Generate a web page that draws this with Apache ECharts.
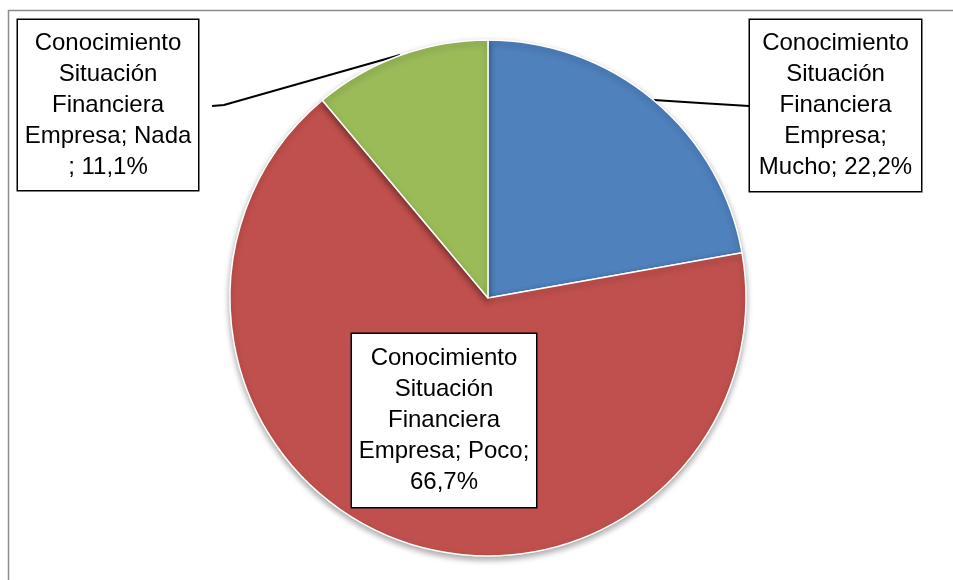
<!DOCTYPE html>
<html>
<head>
<meta charset="utf-8">
<script src="https://cdn.jsdelivr.net/npm/echarts@6/dist/echarts.min.js"></script>
<style>
  html, body { margin: 0; padding: 0; background: #fff; }
  #chart { width: 953px; height: 580px; }
</style>
</head>
<body>
<div id="chart"></div>
<script>
// categorías y valores
var categorias = ["Mucho", "Poco", "Nada"];
var porcentajes = [22.2, 66.7, 11.1];
var colores = ["#4F81BD", "#C0504D", "#9BBB59"];

// texto de las etiquetas (con los saltos de línea del original)
var etiquetas = [
  "Conocimiento\nSituación\nFinanciera\nEmpresa;\nMucho; 22,2%",
  "Conocimiento\nSituación\nFinanciera\nEmpresa; Poco;\n66,7%",
  "Conocimiento\nSituación\nFinanciera\nEmpresa; Nada\n; 11,1%"
];

// posición de las cajas (centro), ancho y relleno, y líneas guía
var cajas = [
  { x: 835.5, y: 105.5, w: 171, pad: [12, 4, 4, 4] },
  { x: 444, y: 420.5, w: 184, pad: [13, 4, 5, 4] },
  { x: 108, y: 105, w: 180, pad: [12, 4, 3, 4] }
];
var lineas = [
  [[654, 100], [700, 103], [749, 106]],
  null,
  [[400, 55], [224, 105], [212, 106]]
];

var chart = echarts.init(document.getElementById("chart"));

var datos = categorias.map(function (c, i) {
  return {
    name: c,
    value: porcentajes[i],
    itemStyle: { color: colores[i] },
    labelLine: { show: lineas[i] !== null },
    label: { width: cajas[i].w - 8, padding: cajas[i].pad }
  };
});

var option = {
  animation: false,
  graphic: [
    {
      type: "rect",
      shape: { x: 8.5, y: 10.5, width: 1000, height: 1000 },
      style: { fill: "none", stroke: "#8c8c8c", lineWidth: 1.5 },
      z: -1
    }
  ],
  series: [
    {
      type: "pie",
      center: [488, 298],
      radius: 258,
      startAngle: 90,
      clockwise: true,
      data: datos,
      itemStyle: {
        borderColor: "#fff",
        borderWidth: 1.5,
        shadowBlur: 6,
        shadowOffsetY: 3,
        shadowColor: "rgba(0,0,0,0.35)"
      },
      label: {
        show: true,
        formatter: function (p) { return etiquetas[p.dataIndex]; },
        fontFamily: "Liberation Sans",
        fontSize: 24,
        lineHeight: 31,
        color: "#000",
        align: "center",
        verticalAlign: "middle",
        overflow: "none",
        backgroundColor: "#fff",
        borderColor: "#000",
        borderWidth: 1.5
      },
      labelLine: {
        show: true,
        lineStyle: { color: "#000", width: 2 }
      },
      labelLayout: function (params) {
        var i = params.dataIndex;
        var res = {
          x: cajas[i].x,
          y: cajas[i].y,
          align: "center",
          verticalAlign: "middle"
        };
        if (lineas[i]) res.labelLinePoints = lineas[i];
        return res;
      },
      emphasis: { disabled: true }
    }
  ]
};

chart.setOption(option);
</script>
</body>
</html>
